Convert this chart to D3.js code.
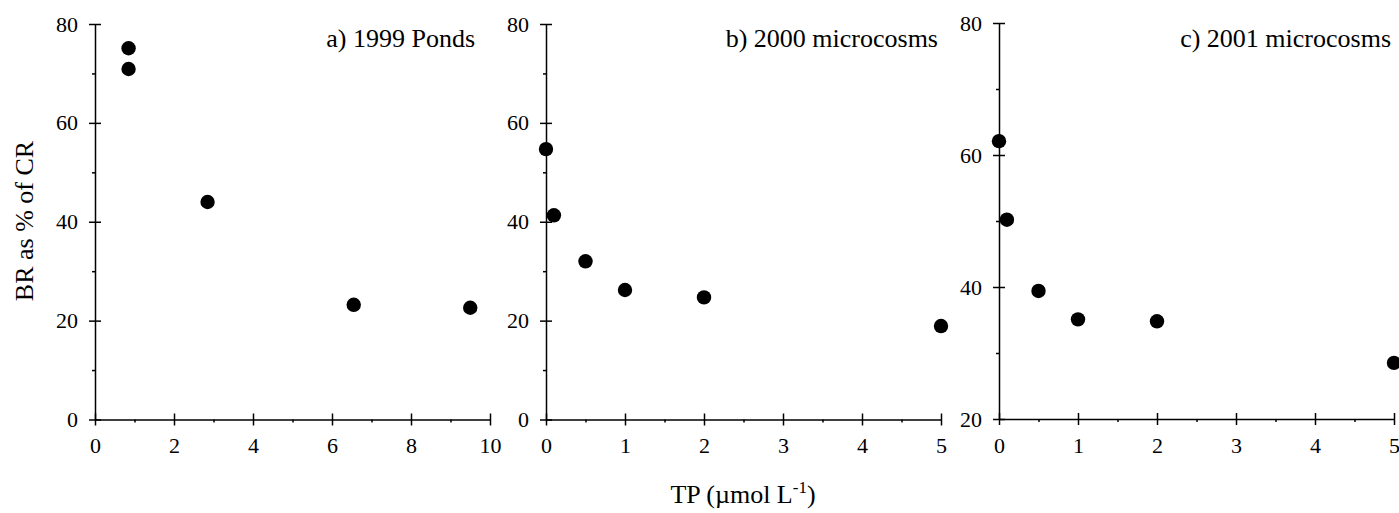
<!DOCTYPE html>
<html>

<head>
  <meta charset="utf-8">
  <title>BR as % of CR vs TP</title>
  <script src="https://d3js.org/d3.v7.min.js"></script>
  <style>
    body {
      margin: 0;
      background: #fff;
    }

    text {
      font-family: 'Liberation Serif', 'Times New Roman', serif;
      fill: #000;
    }

    .axis path,
    .axis line {
      stroke: #000;
      stroke-width: 1.5px;
    }

    .axis text {
      font-size: 22px;
    }
  </style>
</head>

<body>
  <div id="chart"></div>
  <script>
    // values
    const pondsTP = [0.85, 0.85, 2.85, 6.55, 9.5];
    const pondsBR = [75.1, 70.9, 44.0, 23.2, 22.6];

    const micro2000TP = [0, 0.1, 0.5, 1, 2, 5];
    const micro2000BR = [54.7, 41.3, 32.0, 26.2, 24.7, 18.9];

    const micro2001TP = [0, 0.1, 0.5, 1, 2, 5];
    const micro2001BR = [62.1, 50.2, 39.4, 35.1, 34.8, 28.5];

    const panelTitles = ["a) 1999 Ponds", "b) 2000 microcosms", "c) 2001 microcosms"];

    const xTicksA = [0, 2, 4, 6, 8, 10];
    const xMinorA = [1, 3, 5, 7, 9];
    const xTicksBC = [0, 1, 2, 3, 4, 5];
    const xMinorBC = [0.5, 1.5, 2.5, 3.5, 4.5];
    const yTicksAB = [0, 20, 40, 60, 80];
    const yMinorAB = [10, 30, 50, 70];
    const yTicksC = [20, 40, 60, 80];
    const yMinorC = [30, 50, 70];

    const width = 1399,
      height = 513;

    const svg = d3
      .select("#chart")
      .append("svg")
      .attr("width", width)
      .attr("height", height);

    svg.append("rect")
      .attr("width", width)
      .attr("height", height)
      .attr("fill", "#fff");

    const fmt = d3.format("d");

    const panels = [
      {
        tp: pondsTP, br: pondsBR, title: panelTitles[0], titleX: 475,
        x: d3.scaleLinear().domain([0, 10]).range([95, 490]),
        y: d3.scaleLinear().domain([0, 80]).range([419.5, 24]),
        xt: xTicksA, xm: xMinorA, yt: yTicksAB, ym: yMinorAB
      },
      {
        tp: micro2000TP, br: micro2000BR, title: panelTitles[1], titleX: 938,
        x: d3.scaleLinear().domain([0, 5]).range([546, 941]),
        y: d3.scaleLinear().domain([0, 80]).range([419.5, 24]),
        xt: xTicksBC, xm: xMinorBC, yt: yTicksAB, ym: yMinorAB
      },
      {
        tp: micro2001TP, br: micro2001BR, title: panelTitles[2], titleX: 1391,
        x: d3.scaleLinear().domain([0, 5]).range([999, 1394]),
        y: d3.scaleLinear().domain([20, 80]).range([419, 23]),
        xt: xTicksBC, xm: xMinorBC, yt: yTicksC, ym: yMinorC
      }
    ];

    panels.forEach(function (p) {
      const x0 = p.x.range()[0];
      const y0 = p.y.range()[0];

      // minor ticks first (no labels)
      svg.append("g")
        .attr("class", "axis")
        .attr("transform", "translate(0," + y0 + ")")
        .call(d3.axisBottom(p.x).tickValues(p.xm).tickSize(3).tickFormat(""))
        .call(g => g.select(".domain").remove());

      svg.append("g")
        .attr("class", "axis")
        .attr("transform", "translate(" + x0 + ",0)")
        .call(d3.axisLeft(p.y).tickValues(p.ym).tickSize(3).tickFormat(""))
        .call(g => g.select(".domain").remove());

      // x axis, major ticks cross the line
      svg.append("g")
        .attr("class", "axis")
        .attr("transform", "translate(0," + y0 + ")")
        .call(d3.axisBottom(p.x).tickValues(p.xt).tickFormat(fmt)
          .tickSizeInner(6).tickSizeOuter(0).tickPadding(12))
        .call(g => g.selectAll(".tick line").attr("y1", -6));

      // y axis
      svg.append("g")
        .attr("class", "axis")
        .attr("transform", "translate(" + x0 + ",0)")
        .call(d3.axisLeft(p.y).tickValues(p.yt).tickFormat(fmt)
          .tickSizeInner(6).tickSizeOuter(0).tickPadding(11))
        .call(g => g.selectAll(".tick line").attr("x1", 6));

      svg.append("text")
        .attr("x", p.titleX)
        .attr("y", 47)
        .attr("text-anchor", "end")
        .style("font-size", "26px")
        .text(p.title);

      const pts = p.tp.map((d, i) => ({ tp: d, br: p.br[i] }));

      svg.append("g")
        .selectAll("circle")
        .data(pts)
        .enter()
        .append("circle")
        .attr("cx", d => p.x(d.tp))
        .attr("cy", d => p.y(d.br))
        .attr("r", 7.2)
        .style("fill", "#000");
    });

    // y label
    svg.append("text")
      .attr("transform", "translate(33,221) rotate(-90)")
      .attr("text-anchor", "middle")
      .style("font-size", "26px")
      .text("BR as % of CR");

    // x label
    const xlab = svg.append("text")
      .attr("x", 743)
      .attr("y", 503)
      .attr("text-anchor", "middle")
      .style("font-size", "26px");
    xlab.append("tspan").text("TP (\u00b5mol L");
    xlab.append("tspan")
      .attr("dy", -10)
      .style("font-size", "17px")
      .text("-1");
    xlab.append("tspan")
      .attr("dy", 10)
      .text(")");
  </script>
</body>

</html>
